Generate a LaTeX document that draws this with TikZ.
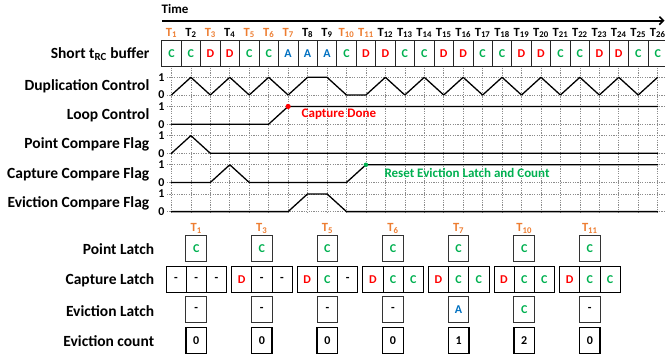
\documentclass[tikz,border=0pt]{standalone}
\usepackage{fontspec}
\setmainfont{Carlito}
\usetikzlibrary{arrows.meta}
\definecolor{orT}{RGB}{237,125,49}
\definecolor{grn}{RGB}{0,176,80}
\definecolor{rdd}{RGB}{255,0,0}
\definecolor{blu}{RGB}{0,112,192}
\newcommand\X[1]{161.7+(#1-0.5)*19.45}
\newcommand\Y[2]{95+29.15*#1-17.7*#2}
\newcommand\ltrC{\textcolor{grn}{C}}
\newcommand\ltrD{\textcolor{rdd}{D}}
\newcommand\ltrA{\textcolor{blu}{A}}
\newcommand\ltrN{-}
\begin{document}
\begin{tikzpicture}[x=1pt,y=-1pt,
  rowlab/.style={anchor=east,font=\fontsize{15.5}{17}\selectfont\bfseries,inner sep=0},
  lvl/.style={font=\fontsize{12}{13}\selectfont\bfseries,inner sep=0},
  tlab/.style={font=\fontsize{12.5}{14}\selectfont\bfseries,inner sep=0},
  boxfont/.style={font=\fontsize{12}{13}\selectfont\bfseries},
  bufcell/.style={boxfont,draw=black!85,line width=0.7pt,minimum width=19.45pt,minimum height=26.7pt,inner sep=0},
  pbox/.style={boxfont,draw=black!80,line width=1pt,minimum width=20.5pt,minimum height=26pt,inner sep=0},
  cbox/.style={boxfont,draw=black,line width=0.8pt,minimum width=20.2pt,minimum height=26.7pt,inner sep=0},
  nbox/.style={boxfont,draw=black,line width=1.4pt,minimum width=20.5pt,minimum height=25.7pt,inner sep=0},
  gridln/.style={black!45,line width=0.6pt,dash pattern=on 1.2pt off 1.2pt},
  wave/.style={line width=1.3pt,line cap=round,line join=round},
  note/.style={anchor=west,font=\fontsize{13}{15}\selectfont\bfseries,inner sep=0}]
\useasboundingbox (0,0) rectangle (665,360);
\clip (0,0) rectangle (665,360);

% time axis
\node[anchor=west,font=\fontsize{13}{15}\selectfont\bfseries,inner sep=0] (time) at (161.5,9) {Time};
\coordinate (ta) at (162,20.7);
\coordinate (tb) at (664.5,20.7);
\draw[line width=1.6pt,-{Straight Barb[length=4pt,width=8pt]}] (ta) -- (tb);

% buffer
\foreach \l/\tc [count=\i] in {\ltrC/orT,\ltrC/black,\ltrD/orT,\ltrD/black,\ltrC/orT,\ltrC/orT,\ltrA/orT,\ltrA/black,\ltrA/black,\ltrC/orT,\ltrD/orT,\ltrD/black,\ltrC/black,\ltrC/black,\ltrD/black,\ltrD/black,\ltrC/black,\ltrC/black,\ltrD/black,\ltrD/black,\ltrC/black,\ltrC/black,\ltrD/black,\ltrD/black,\ltrC/black,\ltrC/black}{
  \node[bufcell] (b\i) at ({\X{\i}},53.3) {\l};
  \node[tlab,text=\tc] (t\i) at ({\X{\i}},33) {T\textsubscript{\i}};
}

% row labels
\node[rowlab] (lbuf) at (149.5,54.5) {Short t\textsubscript{RC} buffer};
\node[rowlab] (ldup) at (149.5,86.5) {Duplication Control};
\node[rowlab] (lloop) at (149.5,115.7) {Loop Control};
\node[rowlab] (lpt) at (149.5,144.8) {Point Compare Flag};
\node[rowlab] (lcap) at (149.5,174) {Capture Compare Flag};
\node[rowlab] (lev) at (149.5,203.1) {Eviction Compare Flag};

% grid
\foreach \i in {1,...,26} \draw[gridln] ({\X{\i}},67.5) -- ({\X{\i}},212.5);
\foreach \k in {0,...,4} {
  \draw[gridln] (167,{\Y{\k}{1}}) -- (665,{\Y{\k}{1}});
  \draw[gridln] (167,{\Y{\k}{0}}) -- (665,{\Y{\k}{0}});
  \node[lvl] (one\k) at (161.5,{\Y{\k}{1}}) {1};
  \node[lvl] (zero\k) at (161.5,{\Y{\k}{0}}) {0};
}

% waveforms
\draw[wave] ({\X{1}},{\Y{0}{0}}) \foreach \v [count=\i from 2] in {1,0,1,0,1,0,1,1,0,0,1,0,1,0,1,0,1,0,1,0,1,0,1,0,1} { -- ({\X{\i}},{\Y{0}{\v}}) };
\draw[wave] ({\X{1}},{\Y{1}{0}}) -- ({\X{6}},{\Y{1}{0}}) -- ({\X{7}},{\Y{1}{1}}) -- ({\X{26}},{\Y{1}{1}});
\draw[wave] ({\X{1}},{\Y{2}{0}}) -- ({\X{2}},{\Y{2}{1}}) -- ({\X{3}},{\Y{2}{0}}) -- ({\X{26}},{\Y{2}{0}});
\draw[wave] ({\X{1}},{\Y{3}{0}}) -- ({\X{3}},{\Y{3}{0}}) -- ({\X{4}},{\Y{3}{1}}) -- ({\X{5}},{\Y{3}{0}}) -- ({\X{10}},{\Y{3}{0}}) -- ({\X{11}},{\Y{3}{1}}) -- ({\X{26}},{\Y{3}{1}});
\draw[wave] ({\X{1}},{\Y{4}{0}}) -- ({\X{7}},{\Y{4}{0}}) -- ({\X{8}},{\Y{4}{1}}) -- ({\X{9}},{\Y{4}{1}}) -- ({\X{10}},{\Y{4}{0}}) -- ({\X{26}},{\Y{4}{0}});

% annotations
\node[circle,fill=rdd,inner sep=0,minimum size=5.2pt] (cdot) at ({\X{7}},{\Y{1}{1}}) {};
\node[note,text=rdd] (cdone) at (301.5,114.3) {Capture Done};
\node[circle,fill=grn,inner sep=0,minimum size=4.4pt] (rdot) at ({\X{11}},{\Y{3}{1}}) {};
\node[note,text=grn] (reset) at (384.3,173.3) {Reset Eviction Latch and Count};

% bottom labels
\node[rowlab] (lpl) at (154.3,249.3) {Point Latch};
\node[rowlab] (lcl) at (154.3,280) {Capture Latch};
\node[rowlab] (lel) at (154.3,310.7) {Eviction Latch};
\node[rowlab] (lec) at (154.3,341) {Eviction count};

% latch groups
\foreach \t/\ca/\cb/\cc/\e/\n [count=\k from 0] in {
  1/\ltrN/\ltrN/\ltrN/\ltrN/0,
  3/\ltrD/\ltrN/\ltrN/\ltrN/0,
  5/\ltrD/\ltrC/\ltrN/\ltrN/0,
  6/\ltrD/\ltrC/\ltrC/\ltrN/0,
  7/\ltrD/\ltrC/\ltrC/\ltrA/1,
  10/\ltrD/\ltrC/\ltrC/\ltrC/2,
  11/\ltrD/\ltrC/\ltrC/\ltrN/0}{
  \pgfmathsetmacro\gx{196.2+65.6*\k}
  \node[tlab,text=orT] (g\k-t) at (\gx,228.3) {T\textsubscript{\t}};
  \node[pbox] (g\k-p) at (\gx,248.7) {\ltrC};
  \node[cbox] (g\k-c1) at (\gx-20.2,279.3) {\ca};
  \node[cbox] (g\k-c2) at (\gx,279.3) {\cb};
  \node[cbox] (g\k-c3) at (\gx+20.2,279.3) {\cc};
  \node[pbox] (g\k-e) at (\gx,309.7) {\e};
  \node[nbox] (g\k-n) at (\gx,340.5) {\n};
}
\end{tikzpicture}
\end{document}
